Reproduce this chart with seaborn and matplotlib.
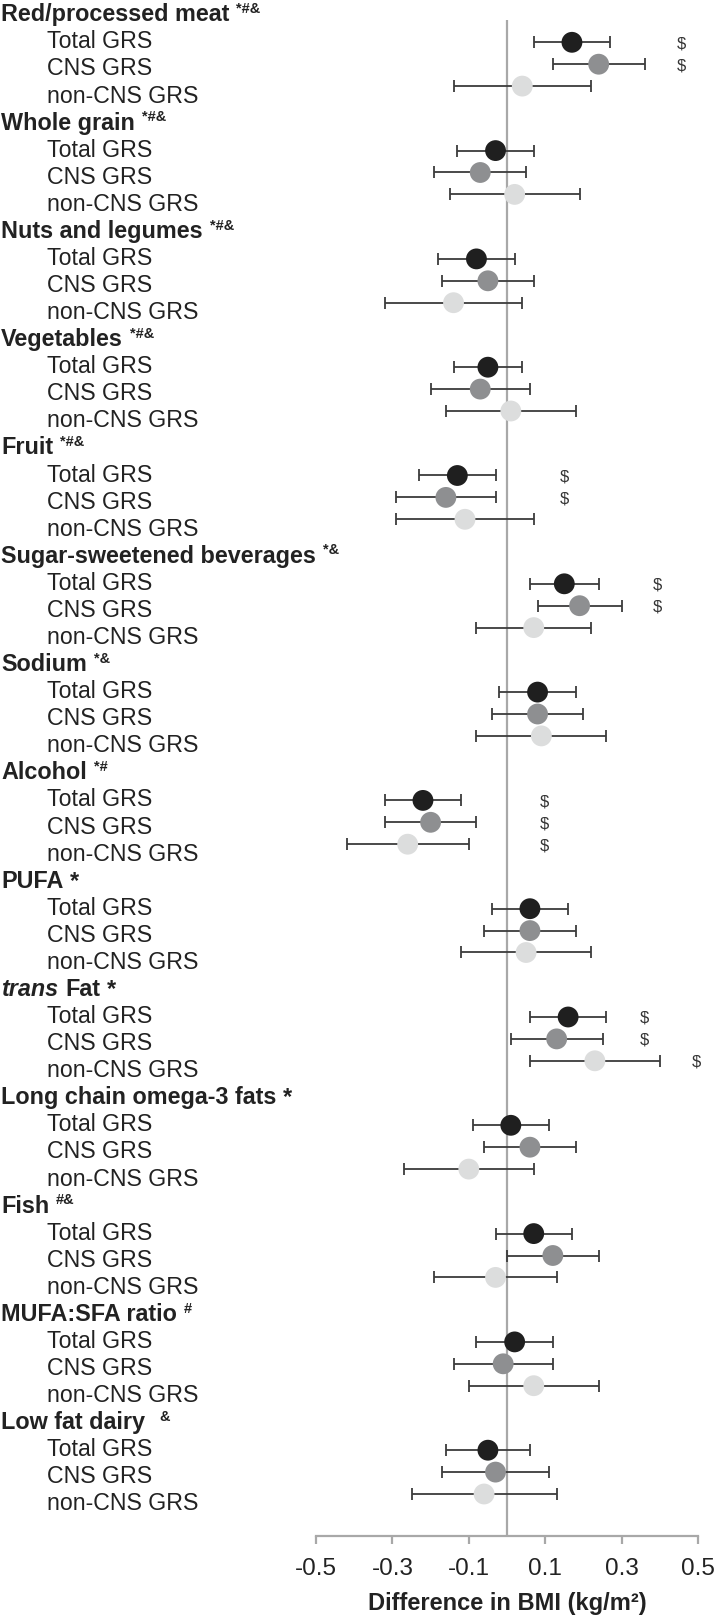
import numpy as np
import pandas as pd
import matplotlib
matplotlib.use("Agg")
import matplotlib.pyplot as plt
import matplotlib.transforms as mtransforms
import seaborn as sns

# Food groups and the significance marks after each header
groups = ["Red/processed meat", "Whole grain", "Nuts and legumes", "Vegetables", "Fruit",
          "Sugar-sweetened beverages", "Sodium", "Alcohol", "PUFA", "trans Fat",
          "Long chain omega-3 fats", "Fish", "MUFA:SFA ratio", "Low fat dairy"]
group_marks = ["*#&", "*#&", "*#&", "*#&", "*#&", "*&", "*&", "*#", "*", "*", "*", "#&", "#", "&"]
grs_types = ["Total GRS", "CNS GRS", "non-CNS GRS"]

# Difference in BMI (kg/m2) with 95% CI
total_est = [0.17, -0.03, -0.08, -0.05, -0.13, 0.15, 0.08, -0.22, 0.06, 0.16, 0.01, 0.07, 0.02, -0.05]
total_lo = [0.07, -0.13, -0.18, -0.14, -0.23, 0.06, -0.02, -0.32, -0.04, 0.06, -0.09, -0.03, -0.08, -0.16]
total_hi = [0.27, 0.07, 0.02, 0.04, -0.03, 0.24, 0.18, -0.12, 0.16, 0.26, 0.11, 0.17, 0.12, 0.06]

cns_est = [0.24, -0.07, -0.05, -0.07, -0.16, 0.19, 0.08, -0.20, 0.06, 0.13, 0.06, 0.12, -0.01, -0.03]
cns_lo = [0.12, -0.19, -0.17, -0.20, -0.29, 0.08, -0.04, -0.32, -0.06, 0.01, -0.06, 0.00, -0.14, -0.17]
cns_hi = [0.36, 0.05, 0.07, 0.06, -0.03, 0.30, 0.20, -0.08, 0.18, 0.25, 0.18, 0.24, 0.12, 0.11]

noncns_est = [0.04, 0.02, -0.14, 0.01, -0.11, 0.07, 0.09, -0.26, 0.05, 0.23, -0.10, -0.03, 0.07, -0.06]
noncns_lo = [-0.14, -0.15, -0.32, -0.16, -0.29, -0.08, -0.08, -0.42, -0.12, 0.06, -0.27, -0.19, -0.10, -0.25]
noncns_hi = [0.22, 0.19, 0.04, 0.18, 0.07, 0.22, 0.26, -0.10, 0.22, 0.40, 0.07, 0.13, 0.24, 0.13]

# "$" markers (x where the sign sits), nan = none
nan = np.nan
sig_total = [0.457, nan, nan, nan, 0.151, 0.395, nan, 0.098, nan, 0.359, nan, nan, nan, nan]
sig_cns = [0.457, nan, nan, nan, 0.151, 0.395, nan, 0.098, nan, 0.359, nan, nan, nan, nan]
sig_noncns = [nan, nan, nan, nan, nan, nan, nan, 0.098, nan, 0.496, nan, nan, nan, nan]

xticks = [-0.5, -0.3, -0.1, 0.1, 0.3, 0.5]
colors = {"Total GRS": "#1f1f1f", "CNS GRS": "#8e8f91", "non-CNS GRS": "#dcdddd"}

# layout (pixels)
W, H = 715, 1616
ROW = 21.9          # marker spacing inside a group
GROUP = 108.3       # group spacing
LINE = GROUP / 4    # text line spacing (header + 3 rows)
FIRST = 42.3        # first marker, px from top
HEAD = -30.0        # header text relative to first marker of its group

sns.set_theme(style="white")
plt.rcParams["font.family"] = ["Liberation Sans", "DejaVu Sans"]

rows = []
for g, name in enumerate(groups):
    for k, (est, lo, hi, sig) in enumerate([
            (total_est[g], total_lo[g], total_hi[g], sig_total[g]),
            (cns_est[g], cns_lo[g], cns_hi[g], sig_cns[g]),
            (noncns_est[g], noncns_lo[g], noncns_hi[g], sig_noncns[g])]):
        rows.append({"group": name, "grs": grs_types[k], "est": est, "lo": lo, "hi": hi,
                     "sig": sig, "y": g * GROUP + k * ROW,
                     "ytext": g * GROUP + HEAD + (k + 1) * LINE})
df = pd.DataFrame(rows)

fig = plt.figure(figsize=(W / 100, H / 100), dpi=100)
ax = fig.add_axes([316 / W, 1 - 1536 / H, (698 - 316) / W, (1536 - 20) / H])

ax.axvline(0, color="#a8a8a8", lw=1.6, zorder=1)
ax.errorbar(df["est"], df["y"], xerr=[df["est"] - df["lo"], df["hi"] - df["est"]],
            fmt="none", ecolor="#3c3c3c", elinewidth=1.3, capsize=4.3, capthick=1.3, zorder=2)
sns.scatterplot(data=df, x="est", y="y", hue="grs", palette=colors, s=225,
                edgecolor="none", linewidth=0, legend=False, ax=ax, zorder=3)

sig = df.dropna(subset=["sig"])
for _, r in sig.iterrows():
    ax.text(r["sig"], r["y"], "$", fontsize=12, color="#333333",
            ha="center", va="center_baseline")

ax.set_xlim(-0.5, 0.5)
ax.set_ylim(1536 - FIRST, 20 - FIRST)
ax.set_xticks(xticks)
ax.set_xticklabels([f"{t:.1f}" for t in xticks], fontsize=17.5, color="#222222")
ax.set_yticks([])
ax.set_ylabel("")
ax.set_xlabel("Difference in BMI (kg/m²)", fontsize=17, fontweight="bold",
              color="#222222", labelpad=8.5)
for s in ["top", "right", "left"]:
    ax.spines[s].set_visible(False)
ax.spines["bottom"].set_color("#a8a8a8")
ax.spines["bottom"].set_linewidth(1.6)
ax.tick_params(axis="x", direction="out", length=6, width=1.6, color="#a8a8a8", pad=10, bottom=True)
ax.patch.set_alpha(0)

# row and header labels on the left
trans = mtransforms.blended_transform_factory(fig.transFigure, ax.transData)
for _, r in df.iterrows():
    ax.text(47 / W, r["ytext"], r["grs"], transform=trans, fontsize=16.7, color="#222222",
            ha="left", va="center_baseline")

fig.canvas.draw()
renderer = fig.canvas.get_renderer()
for g, (name, marks) in enumerate(zip(groups, group_marks)):
    y = g * GROUP + HEAD
    if name == "trans Fat":
        t = ax.text(1 / W, y, "trans", transform=trans, fontsize=16.8, fontweight="bold",
                    style="italic", color="#222222", ha="left", va="center_baseline")
        x1 = t.get_window_extent(renderer).x1 / fig.bbox.width
        t = ax.annotate("Fat", xy=(x1, y), xycoords=trans, xytext=(5, 0), textcoords="offset points",
                        fontsize=16.8, fontweight="bold", color="#222222", ha="left", va="center_baseline")
    else:
        t = ax.text(1 / W, y, name, transform=trans, fontsize=16.8, fontweight="bold",
                    color="#222222", ha="left", va="center_baseline")
    x1 = t.get_window_extent(renderer).x1 / fig.bbox.width
    if marks == "*":
        ax.annotate("*", xy=(x1, y), xycoords=trans, xytext=(5, 0), textcoords="offset points",
                    fontsize=16.8, fontweight="bold", color="#222222", ha="left", va="center_baseline")
    else:
        gap = 10 if name == "Low fat dairy" else 5
        ax.annotate(marks, xy=(x1, y), xycoords=trans, xytext=(gap, 3.5), textcoords="offset points",
                    fontsize=10.5, fontweight="bold", color="#222222", ha="left", va="center_baseline")

fig.savefig("out.png", dpi=100)
